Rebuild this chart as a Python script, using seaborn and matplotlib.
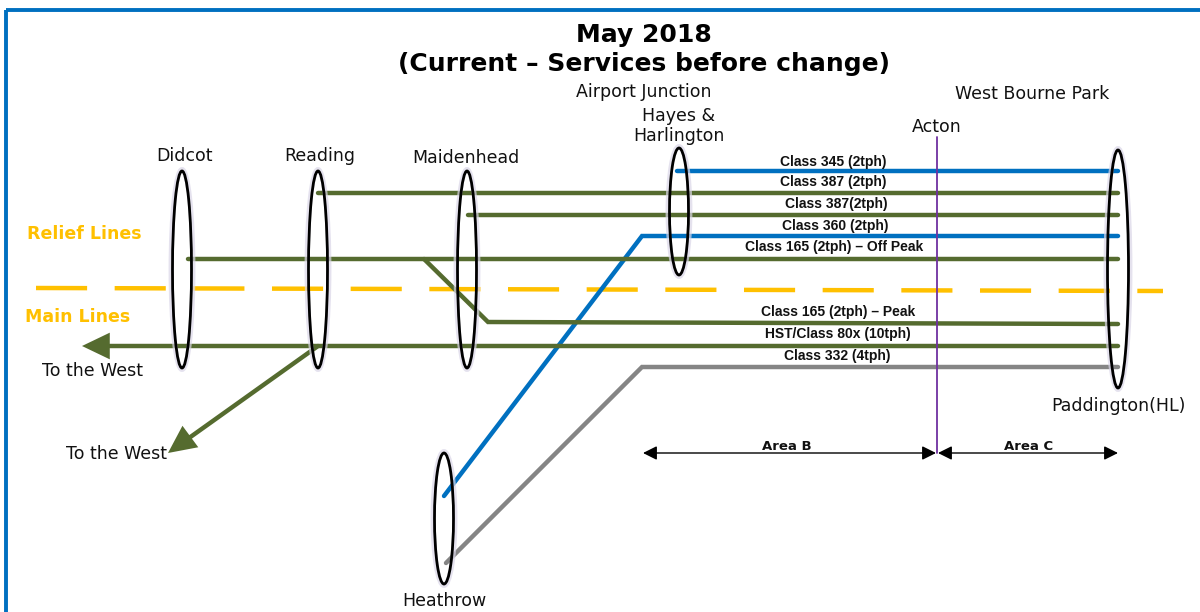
import matplotlib
matplotlib.use('Agg')
import matplotlib.pyplot as plt
from matplotlib.patches import Ellipse, Rectangle
import seaborn as sns

# Routes (x along the line, y down the page)
route_names = ['Class 345', 'Class 387 a', 'Class 387 b', 'Class 360', 'Class 165 off peak',
               'Class 165 peak', 'HST', 'Class 332', 'Reading west']
route_x = [[677, 1118], [318, 1118], [468, 1118], [444, 642, 1118], [188, 1118],
           [424, 488, 1118], [100, 1118], [446, 642, 1118], [318, 182]]
route_y = [[171, 171], [193, 193], [215, 215], [496, 236, 236], [259, 259],
           [259, 322, 324], [346, 346], [563, 367, 367], [346, 443]]
route_colors = ['#0070C0', '#556B2F', '#556B2F', '#0070C0', '#556B2F',
                '#556B2F', '#556B2F', '#858585', '#556B2F']

# Stations: centre x, top y, bottom y
station_x = [182, 318, 467, 679, 1118, 444]
station_top = [171, 171, 171, 148, 150, 453]
station_bottom = [368, 368, 368, 275, 388, 584]

station_labels = ['Didcot', 'Reading', 'Maidenhead', 'Airport Junction', 'Hayes &\nHarlington',
                  'West Bourne Park', 'Acton', 'Paddington(HL)', 'Heathrow', 'To the West', 'To the West']
label_x = [184, 320, 466, 644, 679, 1032, 937, 1118, 444, 93, 116]
label_y = [156, 156, 158, 92, 126, 94, 127, 406, 601, 371, 454]

service_labels = ['Class 345 (2tph)', 'Class 387 (2tph)', 'Class 387(2tph)', 'Class 360 (2tph)',
                  'Class 165 (2tph) \u2013 Off Peak', 'Class 165 (2tph) \u2013 Peak',
                  'HST/Class 80x (10tph)', 'Class 332 (4tph)']
service_x = [833, 833, 836, 835, 834, 838, 838, 837]
service_y = [162, 182, 204, 226, 247, 312, 334, 356]

divider_x = [36, 1163]
divider_y = [288, 291]
acton_x = [937, 937]
acton_y = [137, 453]

sns.set_theme(style='white')
fig, ax = plt.subplots(figsize=(12, 6.12), dpi=100)
ax.set_position([0, 0, 1, 1])

# Frame, runs off the right and bottom of the page
ax.add_patch(Rectangle((6, 10), 1300, 700, fill=False, ec='#0070C0', lw=2.8, zorder=1))

# Amber divider between relief and main lines
sns.lineplot(x=divider_x, y=divider_y, ax=ax, color='#FFC000', lw=3.2, sort=False,
             estimator=None, dashes=(11.5, 6.2), zorder=2)

for name, xs, ys, col in zip(route_names, route_x, route_y, route_colors):
    sns.lineplot(x=xs, y=ys, ax=ax, color=col, lw=3.2, sort=False, estimator=None,
                 solid_capstyle='round', solid_joinstyle='miter', zorder=3)

# Acton marker
sns.lineplot(x=acton_x, y=acton_y, ax=ax, color='#7030A0', lw=1.3, sort=False, estimator=None, zorder=4)

# Arrow heads to the west
for tip, tail in [((82, 346), (105, 346)), ((168, 453), (187, 439))]:
    ax.annotate('', xy=tip, xytext=tail, zorder=5,
                arrowprops=dict(arrowstyle='-|>,head_length=1.25,head_width=0.6', color='#556B2F',
                                lw=0, shrinkA=0, shrinkB=0, mutation_scale=16))

# Station ovals with a faint lilac glow
for x, top, bottom in zip(station_x, station_top, station_bottom):
    h = bottom - top
    mid = (top + bottom) / 2
    w = 21 if x == 1118 else 19
    ax.add_patch(Ellipse((x, mid), w + 3, h + 3, fill=False, ec='#DAD6E8', lw=3.5, alpha=0.7, zorder=5))
    ax.add_patch(Ellipse((x, mid), w, h, fill=False, ec='black', lw=2, zorder=6))

# Area arrows
for x0, x1, txt, tx in [(643, 936, 'Area B', 787), (938, 1118, 'Area C', 1029)]:
    ax.annotate('', xy=(x0, 453), xytext=(x1, 453), zorder=5,
                arrowprops=dict(arrowstyle='<|-|>,head_length=0.6,head_width=0.3', color='black',
                                lw=1, shrinkA=0, shrinkB=0, mutation_scale=14))
    ax.text(tx, 446, txt, ha='center', va='center', fontsize=9.5, fontweight='bold',
            family='Liberation Sans Narrow', color='#111111')

for txt, x, y in zip(station_labels, label_x, label_y):
    ax.text(x, y, txt, ha='center', va='center', fontsize=12.5, family='Liberation Sans Narrow',
            color='#111111', linespacing=1.1, zorder=7)

for txt, x, y in zip(service_labels, service_x, service_y):
    ax.text(x, y, txt, ha='center', va='center', fontsize=10, fontweight='bold',
            family='Liberation Sans', color='#111111', zorder=7)

ax.text(644, 35, 'May 2018', ha='center', va='center', fontsize=18, fontweight='bold',
        family='DejaVu Sans', color='black')
ax.text(644, 64, '(Current \u2013 Services before change)', ha='center', va='center', fontsize=18,
        fontweight='bold', family='DejaVu Sans', color='black')
ax.text(84, 234, 'Relief Lines', ha='center', va='center', fontsize=12.5, fontweight='bold',
        family='DejaVu Sans', color='#FFC000')
ax.text(78, 317, 'Main Lines', ha='center', va='center', fontsize=12.5, fontweight='bold',
        family='DejaVu Sans', color='#FFC000')

ax.set_xlim(0, 1200)
ax.set_ylim(612, 0)
ax.axis('off')

fig.savefig('out.png', dpi=100, facecolor='white')
